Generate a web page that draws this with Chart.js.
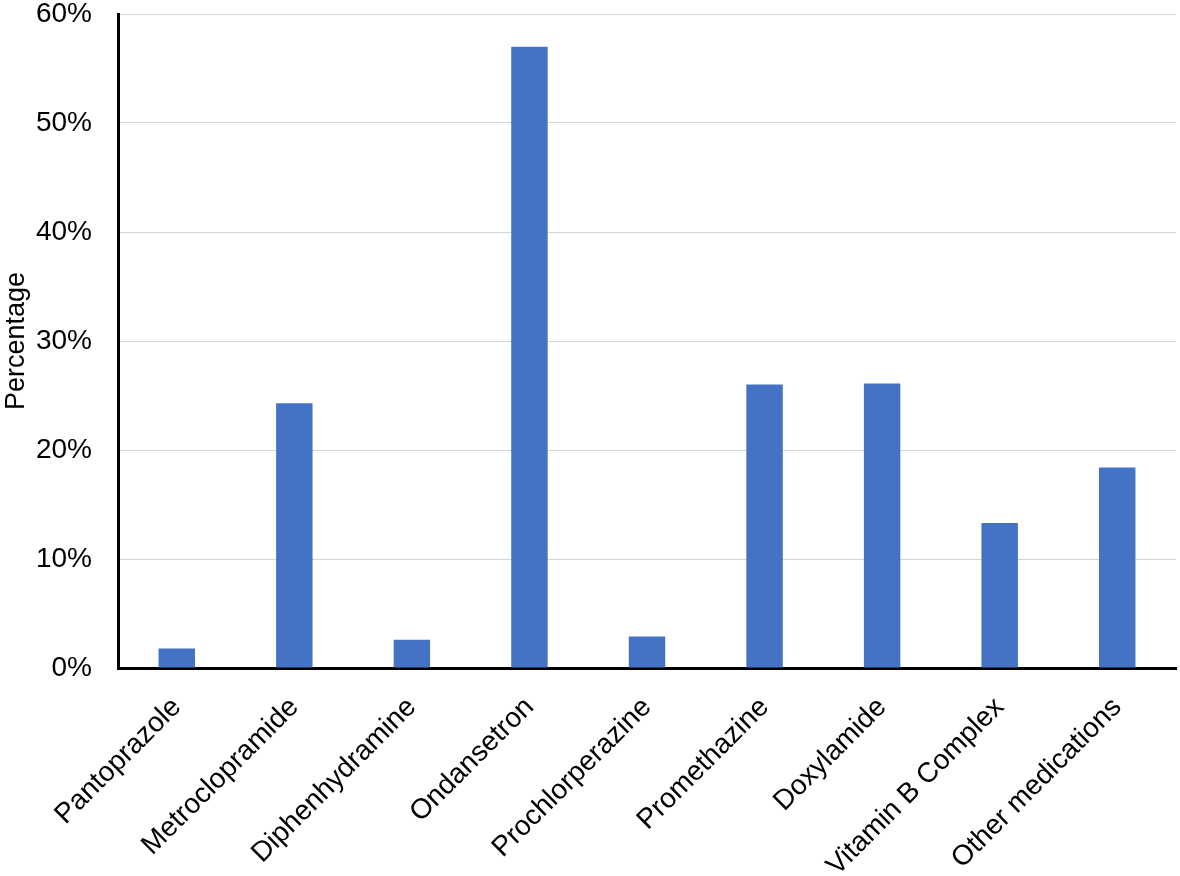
<!DOCTYPE html>
<html>
<head>
<meta charset="utf-8">
<script src="https://cdn.jsdelivr.net/npm/chart.js@4/dist/chart.umd.min.js"></script>
<style>
  html, body { margin: 0; padding: 0; background: #fff; }
  #wrap { width: 1180px; height: 876px; }
</style>
</head>
<body>
<div id="wrap"><canvas id="chart" width="1180" height="876"></canvas></div>
<script>
"use strict";

const categories = [
  "Pantoprazole", "Metroclopramide", "Diphenhydramine", "Ondansetron",
  "Prochlorperazine", "Promethazine", "Doxylamide", "Vitamin B Complex",
  "Other medications",
];
const percentages = [1.8, 24.3, 2.6, 57.0, 2.9, 26.0, 26.1, 13.3, 18.4];
const yTicks = [0, 10, 20, 30, 40, 50, 60];

const FONT = "'Liberation Sans', Arial, sans-serif";

new Chart(document.getElementById("chart"), {
  type: "bar",
  data: {
    labels: categories,
    datasets: [{
      data: percentages,
      backgroundColor: "#4472C4",
      borderWidth: 0,
      barPercentage: 0.31,
      categoryPercentage: 1,
    }],
  },
  options: {
    responsive: false,
    animation: false,
    layout: { padding: { top: 14, right: 4, left: 0, bottom: 0 } },
    plugins: { legend: { display: false }, tooltip: { enabled: false } },
    scales: {
      x: {
        grid: { display: false },
        border: { display: true, color: "#000", width: 3 },
        ticks: {
          color: "#000",
          font: { family: FONT, size: 28 },
          minRotation: 45,
          maxRotation: 45,
          padding: 15,
        },
        afterFit: (axis) => { axis.height = 208; },
      },
      y: {
        min: 0,
        max: 60,
        afterBuildTicks: (axis) => { axis.ticks = yTicks.map((v) => ({ value: v })); },
        grid: { color: "#d4d4d4", lineWidth: 1, drawTicks: false },
        border: { display: true, color: "#000", width: 3 },
        ticks: {
          color: "#000",
          font: { family: FONT, size: 28 },
          padding: 26,
          callback: (v) => v + "%",
        },
        title: {
          display: true,
          text: "Percentage",
          color: "#000",
          font: { family: FONT, size: 27 },
          padding: 0,
        },
        afterFit: (axis) => {
          axis.width = 118;
          axis.paddingTop = 0;
          axis.paddingBottom = 0;
        },
      },
    },
  },
});
</script>
</body>
</html>
